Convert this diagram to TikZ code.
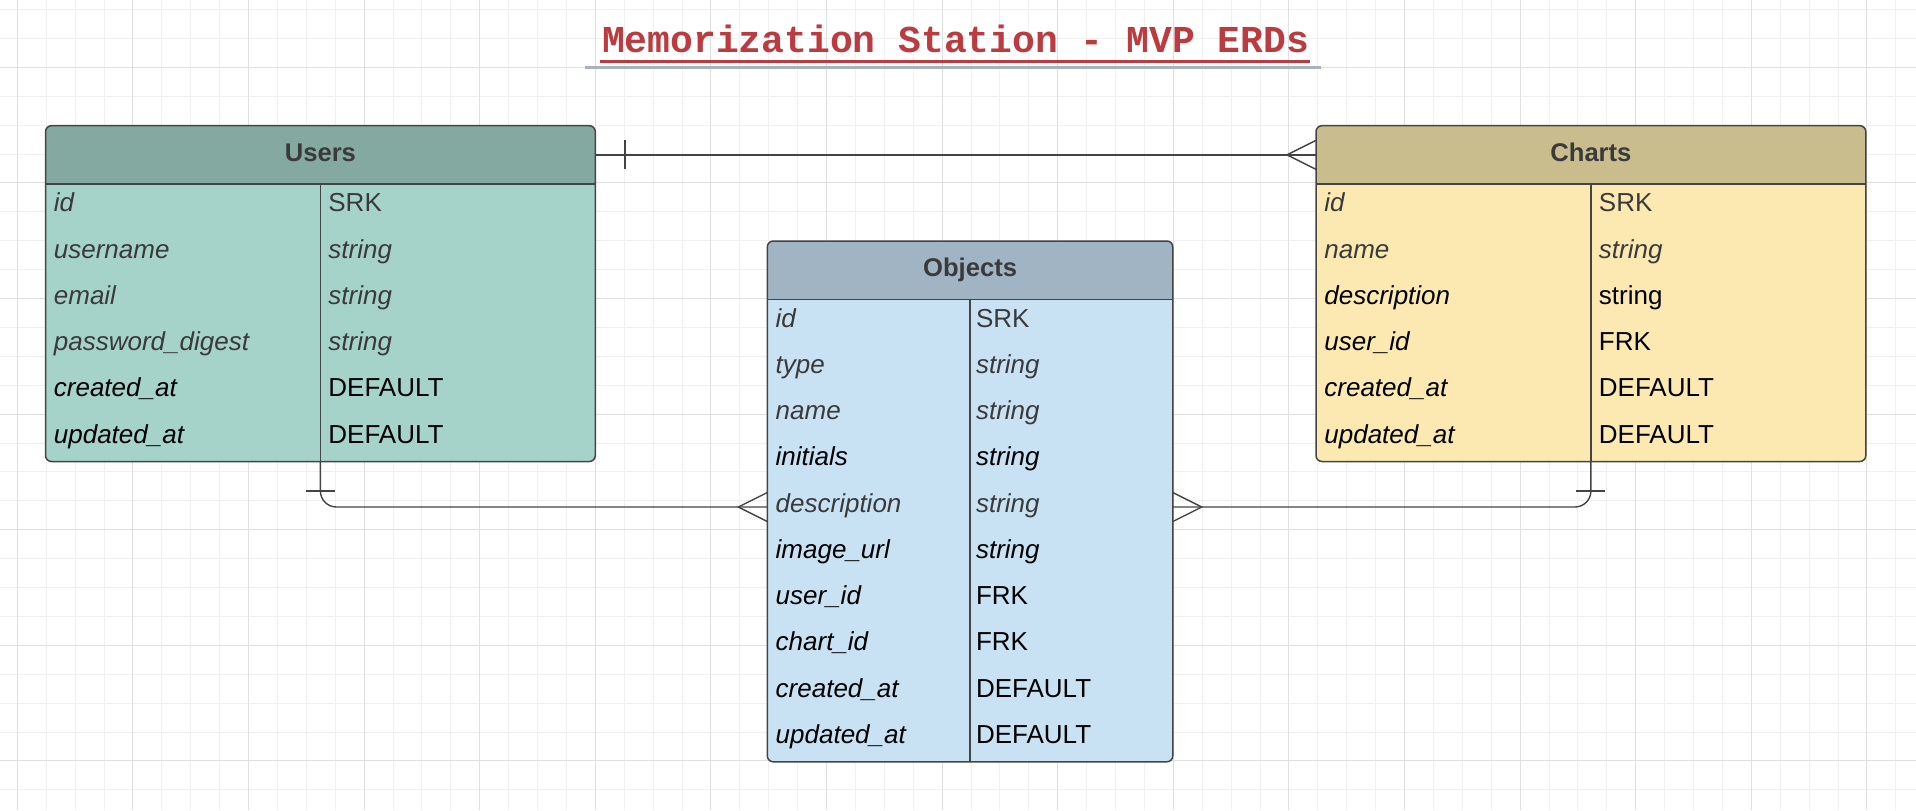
\documentclass[tikz,border=0pt]{standalone}
\usepackage{fontspec}
\setmainfont{Liberation Sans}
\newfontfamily\titlefont{Liberation Mono}
\usepackage{tikz}
\usetikzlibrary{calc, positioning}
\usepackage{xcolor}

\definecolor{gridminor}{HTML}{F0F0F0}
\definecolor{gridmajor}{HTML}{E0E0E0}
\definecolor{titlered}{HTML}{BA3C40}
\definecolor{titlegray}{HTML}{AAB0BE}
\definecolor{usersHd}{HTML}{84A9A0}
\definecolor{usersBd}{HTML}{A6D3C9}
\definecolor{objectsHd}{HTML}{A0B4C3}
\definecolor{objectsBd}{HTML}{C8E2F4}
\definecolor{chartsHd}{HTML}{C9BD8D}
\definecolor{chartsBd}{HTML}{FCE9B2}
\definecolor{txtgray}{HTML}{3A3A3A}
\definecolor{linegray}{HTML}{444444}

\tikzset{
  tbl/.style={inner sep=0pt, anchor=north west, rounded corners=3pt},
  hdr/.style={inner sep=0pt, anchor=north, rounded corners=3pt, minimum height=28.75pt,
    text height=9.2pt, text depth=3pt,
    text=txtgray, font=\fontsize{12.8}{14}\selectfont\bfseries},
  frame/.style={draw=linegray, line width=0.75pt, rounded corners=3pt},
  rule/.style={draw=linegray, line width=0.7pt},
  link/.style={draw=linegray, line width=0.7pt},
  cell/.style={anchor=base west, inner sep=0pt, font=\fontsize{13}{15}\selectfont},
  itgray/.style={cell, text=txtgray, font=\fontsize{13}{15}\selectfont\itshape},
  itblack/.style={cell, text=black, font=\fontsize{13}{15}\selectfont\itshape},
  upgray/.style={cell, text=txtgray},
  upblack/.style={cell, text=black},
  titletxt/.style={inner sep=0pt, anchor=base, text=titlered,
    font=\titlefont\bfseries\fontsize{19}{22}\selectfont}
}

\begin{document}
\begin{tikzpicture}[x=0.5pt, y=-0.5pt]
    \useasboundingbox (0,0) rectangle (1916,810);
    % Grid
    \foreach \k in {0,...,65} \draw[gridminor, line width=0.5pt] ({17.3+28.9*\k},0) -- ({17.3+28.9*\k},810);
    \foreach \k in {0,...,27} \draw[gridminor, line width=0.5pt] (0,{9.5+28.9*\k}) -- (1916,{9.5+28.9*\k});
    \foreach \k in {0,...,16} \draw[gridmajor, line width=0.5pt] ({17.3+115.6*\k},0) -- ({17.3+115.6*\k},810);
    \foreach \k in {0,...,6} \draw[gridmajor, line width=0.5pt] (0,{67.3+115.6*\k}) -- (1916,{67.3+115.6*\k});

    % Title
    \node[titletxt] (title) at (955.5,52.7) {Memorization Station - MVP ERDs};
    \draw[titlered, line width=1.25pt] ($(title.base west)+(-2,9)$) -- ($(title.base east)+(1,9)$);
    \draw[titlegray, line width=1.5pt] ($(title.base west)+(-17,14.6)$) -- ($(title.base east)+(12,14.6)$);

    % Users
    \node[tbl, fill=usersBd, minimum width=274.5pt, minimum height=167.5pt] (users) at (45.5,125.7) {};
    \node[hdr, fill=usersHd, minimum width=274.5pt] (usershead) at (users.north) {Users};
    \fill[usersHd] ($(usershead.south west)+(0,-8)$) rectangle (usershead.south east);
    \draw[frame] (users.north west) rectangle (users.south east);
    \draw[rule] (usershead.south west) -- (usershead.south east);
    \draw[rule] (usershead.south) -- (users.south);
    \begin{scope}[shift={(users.north west)}]
        \foreach \n/\ns/\v/\vs [count=\i from 0] in {id/itgray/SRK/upgray, username/itgray/string/itgray,
            email/itgray/string/itgray, password\_digest/itgray/string/itgray,
            created\_at/itblack/DEFAULT/upblack, updated\_at/itblack/DEFAULT/upblack}
        {
            \node[\ns] (usersn\i) at (8,{86.1+46.25*\i}) {\n};
            \node[\vs] (usersv\i) at (282.5,{86.1+46.25*\i}) {\v};
        }
    \end{scope}

    % Charts
    \node[tbl, fill=chartsBd, minimum width=274.5pt, minimum height=167.5pt] (charts) at (1316,125.7) {};
    \node[hdr, fill=chartsHd, minimum width=274.5pt] (chartshead) at (charts.north) {Charts};
    \fill[chartsHd] ($(chartshead.south west)+(0,-8)$) rectangle (chartshead.south east);
    \draw[frame] (charts.north west) rectangle (charts.south east);
    \draw[rule] (chartshead.south west) -- (chartshead.south east);
    \draw[rule] (chartshead.south) -- (charts.south);
    \begin{scope}[shift={(charts.north west)}]
        \foreach \n/\ns/\v/\vs [count=\i from 0] in {id/itgray/SRK/upgray, name/itgray/string/itgray,
            description/itblack/string/upblack, user\_id/itblack/FRK/upblack,
            created\_at/itblack/DEFAULT/upblack, updated\_at/itblack/DEFAULT/upblack}
        {
            \node[\ns] (chartsn\i) at (8,{86.1+46.25*\i}) {\n};
            \node[\vs] (chartsv\i) at (282.5,{86.1+46.25*\i}) {\v};
        }
    \end{scope}

    % Objects
    \node[tbl, fill=objectsBd, minimum width=202.35pt, minimum height=260pt] (objects) at (767.3,241) {};
    \node[hdr, fill=objectsHd, minimum width=202.35pt] (objectshead) at (objects.north) {Objects};
    \fill[objectsHd] ($(objectshead.south west)+(0,-8)$) rectangle (objectshead.south east);
    \draw[frame] (objects.north west) rectangle (objects.south east);
    \draw[rule] (objectshead.south west) -- (objectshead.south east);
    \draw[rule] (objectshead.south) -- (objects.south);
    \begin{scope}[shift={(objects.north west)}]
        \foreach \n/\ns/\v/\vs [count=\i from 0] in {id/itgray/SRK/upgray, type/itgray/string/itgray,
            name/itgray/string/itgray, initials/itblack/string/itblack,
            description/itgray/string/itgray, image\_url/itblack/string/itblack,
            user\_id/itblack/FRK/upblack, chart\_id/itblack/FRK/upblack,
            created\_at/itblack/DEFAULT/upblack, updated\_at/itblack/DEFAULT/upblack}
        {
            \node[\ns] (objectsn\i) at (8,{86.1+46.25*\i}) {\n};
            \node[\vs] (objectsv\i) at (208.35,{86.1+46.25*\i}) {\v};
        }
    \end{scope}
    \coordinate (objL) at ($(objects.north west)+(0,266)$);
    \coordinate (objR) at ($(objects.north east)+(0,266)$);

    % Relations
    \draw[link] (usershead.east) -- (chartshead.west);
    \draw[link] ($(usershead.east)+(29.5,-14.5)$) -- ($(usershead.east)+(29.5,14.5)$);
    \draw[link] ($(chartshead.west)+(0,-14.5)$) -- ($(chartshead.west)+(-29,0)$) -- ($(chartshead.west)+(0,14.5)$);

    \draw[link, rounded corners=8pt] (users.south) |- (objL);
    \draw[link] ($(users.south)+(-14.5,29.3)$) -- ($(users.south)+(14.5,29.3)$);
    \draw[link] ($(objL)+(0,-14.5)$) -- ($(objL)+(-29,0)$) -- ($(objL)+(0,14.5)$);

    \draw[link, rounded corners=8pt] (charts.south) |- (objR);
    \draw[link] ($(charts.south)+(-14.5,29.3)$) -- ($(charts.south)+(14.5,29.3)$);
    \draw[link] ($(objR)+(0,-14.5)$) -- ($(objR)+(29,0)$) -- ($(objR)+(0,14.5)$);
\end{tikzpicture}
\end{document}
